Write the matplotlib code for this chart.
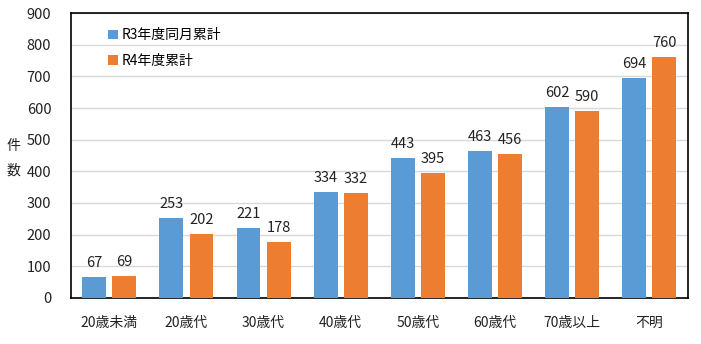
import numpy as np
import matplotlib
matplotlib.use("Agg")
import matplotlib.pyplot as plt

plt.rcParams['font.family'] = ['Noto Sans CJK JP', 'DejaVu Sans']

categories = ['20歳未満', '20歳代', '30歳代', '40歳代', '50歳代', '60歳代', '70歳以上', '不明']
r3_values = [67, 253, 221, 334, 443, 463, 602, 694]
r4_values = [69, 202, 178, 332, 395, 456, 590, 760]
series_names = ['R3年度同月累計', 'R4年度累計']

fig = plt.figure(figsize=(7.01, 3.44), dpi=100)
ax = fig.add_axes([0.101, 0.134, 0.880, 0.828])

x = np.arange(len(categories))
w = 0.31
off = 0.195
b1 = ax.bar(x - off, r3_values, w, color='#5B9BD5', label=series_names[0], zorder=3)
b2 = ax.bar(x + off, r4_values, w, color='#ED7D31', label=series_names[1], zorder=3)

for bars, vals in ((b1, r3_values), (b2, r4_values)):
    for rect, v in zip(bars, vals):
        ax.text(rect.get_x() + rect.get_width() / 2, v + 22, str(v),
                ha='center', va='bottom', fontsize=10.5, color='#222222')

ax.set_xlim(-0.5, len(categories) - 0.5)
ax.set_ylim(0, 900)
ax.set_yticks(range(0, 901, 100))
ax.set_xticks(x)
ax.set_xticklabels(categories, fontsize=10, color='#222222')
ax.tick_params(axis='y', labelsize=10.5, colors='#222222', length=0, pad=14)
ax.tick_params(axis='x', length=0, pad=13)
ax.grid(axis='y', color='#d9d9d9', linewidth=1, zorder=0)
for s in ax.spines.values():
    s.set_color('black')
    s.set_linewidth(1.2)

# 縦書きの軸タイトル
fig.text(0.019, 1 - 146 / 344, '件', ha='center', va='center', fontsize=10, color='#222222')
fig.text(0.019, 1 - 171 / 344, '数', ha='center', va='center', fontsize=10, color='#222222')

ax.legend(loc='upper left', bbox_to_anchor=(0.04, 0.99), frameon=False,
          fontsize=10, handlelength=0.7, handleheight=0.7, handletextpad=0.3,
          labelspacing=0.8)

fig.savefig('out.png', dpi=100)
